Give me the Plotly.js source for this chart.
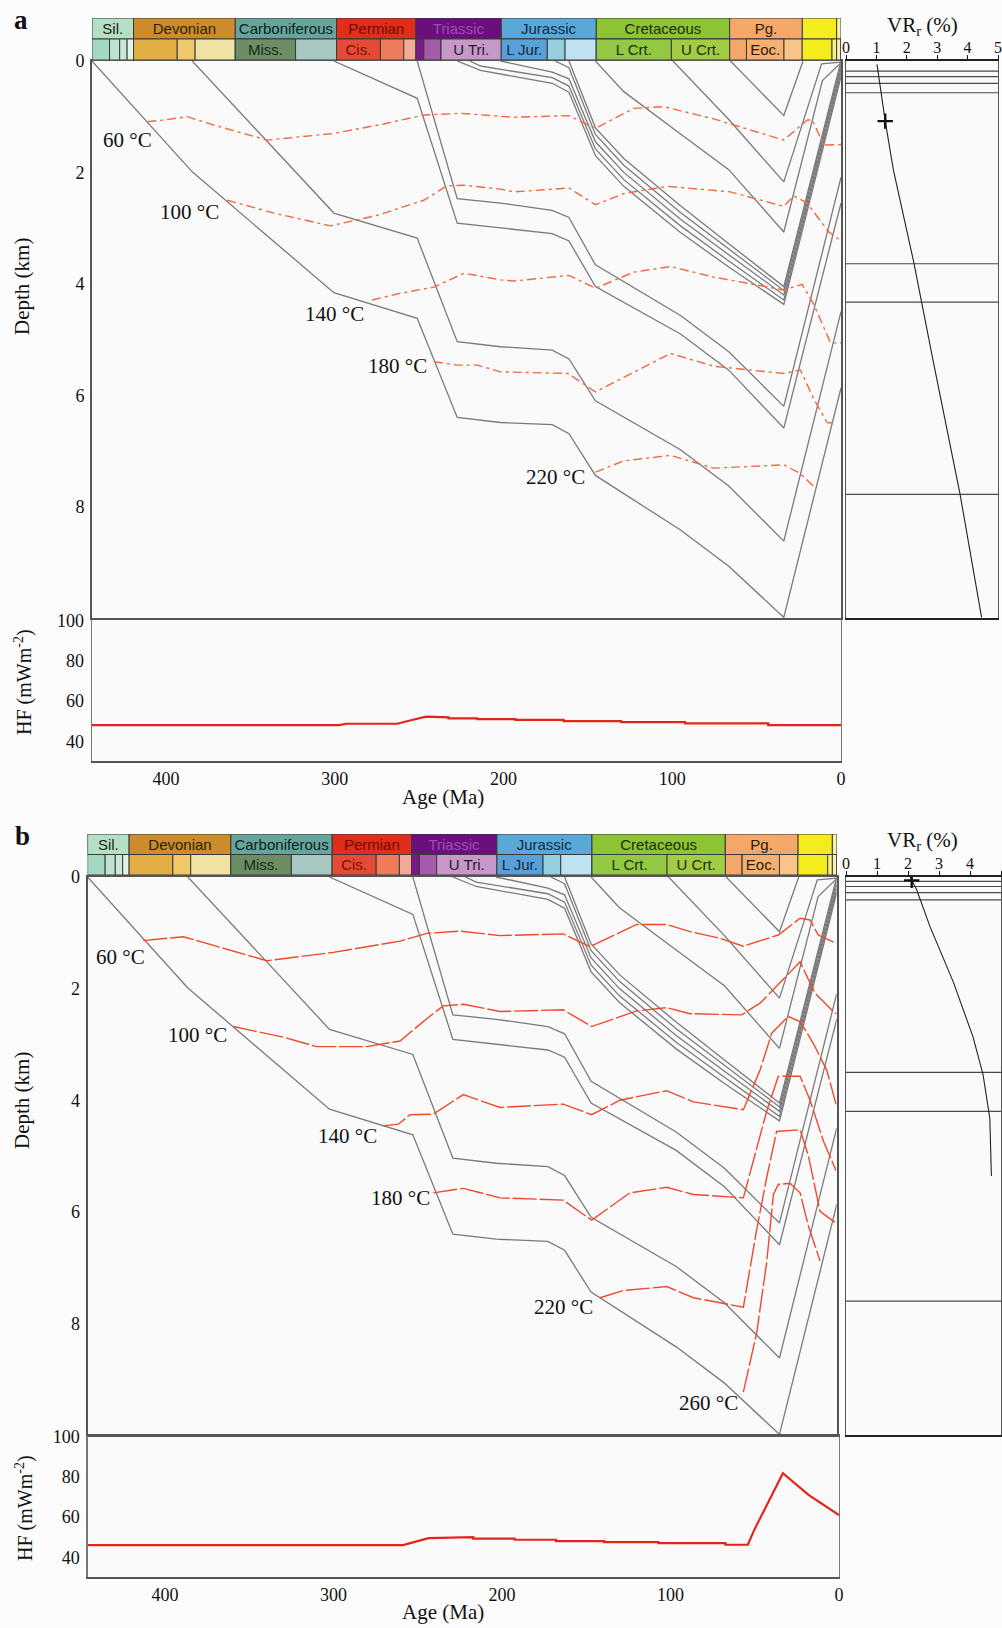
<!DOCTYPE html>
<html><head><meta charset="utf-8">
<script src="https://cdn.plot.ly/plotly-3.0.1.min.js"></script>
<style>html,body{margin:0;padding:0;background:#fcfcfc}#chart{width:1002px;height:1628px}</style>
</head><body><div id="chart"></div>
<script>
// ================= DATA =================
// Geological time scale (Ma)
const periodNames  = ['Sil.','Devonian','Carboniferous','Permian','Triassic','Jurassic','Cretaceous','Pg.','',''];
const periodStart  = [443.8, 419.2, 358.9, 298.9, 251.9, 201.3, 145.0, 66.0, 23.0, 2.58];
const periodEnd    = [419.2, 358.9, 298.9, 251.9, 201.3, 145.0, 66.0, 23.0, 2.58, 0];
const periodColors = ['#b5dfc3','#cc8c2c','#67a59c','#e02d1c','#6a0f7c','#5aa8d8','#8cc434','#f3a86a','#f4ec1c','#f8f3a0'];
const periodText   = ['#222','#2a1e08','#102020','#6e0a00','#9a50ad','#0f2a40','#1c2a08','#2a1a08','#222','#222'];

const epochNames  = ['','','','', '','','', 'Miss.','', 'Cis.','','', '','','U Tri.', 'L Jur.','','', 'L Crt.','U Crt.', '','Eoc.','', '','', '',''];
const epochStart  = [443.8,433.4,427.4,423.0, 419.2,393.3,382.7, 358.9,323.2, 298.9,272.95,259.1, 251.9,247.2,237.0, 201.3,174.1,163.5, 145.0,100.5, 66.0,56.0,33.9, 23.0,5.33, 2.58,0.0117];
const epochEnd    = [433.4,427.4,423.0,419.2, 393.3,382.7,358.9, 323.2,298.9, 272.95,259.1,251.9, 247.2,237.0,201.3, 174.1,163.5,145.0, 100.5,66.0, 56.0,33.9,23.0, 5.33,2.58, 0.0117,0];
const epochColors = ['#a3d9c2','#bfe3cf','#cae8d6','#e2f3e6', '#e2ae44','#f0c86a','#efe4a4', '#6c8e64','#a6c8c0', '#e44a35','#ef7a5c','#f4a898', '#7c1888','#a45ca8','#c797c9', '#5aa0d8','#96cfe0','#bfe2f2', '#93c844','#a3cc44', '#f3a86a','#f6b070','#f8c488', '#f4ec1c','#f8f088', '#f8f3b0','#fdf6e0'];
const epochText   = ['#222','#222','#222','#222','#222','#222','#222','#1a2a1a','#222','#7a0a00','#222','#222','#222','#222','#222','#0f2a40','#222','#222','#1c2a08','#1c2a08','#222','#2a1a08','#222','#222','#222','#222','#222'];

// Burial history horizons (age Ma, depth km) - same well in both panels
const h1Age = [443.8, 384.4, 300.5, 251.1, 227.4, 201.7, 171.1, 161.2, 145.5, 95.1, 66.5, 33.9, 0];
const h1Dep = [0, 1.99, 4.16, 4.62, 6.40, 6.49, 6.53, 6.69, 7.44, 8.42, 9.07, 9.99, 5.87];
const h2Age = [384.4, 300.5, 251.1, 227.4, 201.7, 171.1, 161.2, 145.5, 95.1, 66.5, 33.9, 0];
const h2Dep = [0, 2.73, 3.18, 5.04, 5.13, 5.19, 5.35, 6.10, 6.98, 7.63, 8.62, 4.50];
const h3Age = [300.5, 251.1, 227.4, 201.7, 171.1, 161.2, 145.5, 95.1, 66.5, 33.9, 0];
const h3Dep = [0, 0.67, 2.91, 3.00, 3.10, 3.23, 4.05, 4.90, 5.55, 6.59, 2.55];
const h4Age = [251.1, 227.4, 201.7, 171.1, 161.2, 145.5, 95.1, 66.5, 33.9, 0];
const h4Dep = [0, 2.47, 2.55, 2.68, 2.81, 3.66, 4.57, 5.22, 6.20, 2.09];
const h5Age = [227.4, 213.6, 171.1, 161.2, 145.5, 128.7, 95.1, 66.5, 33.9, 0];
const h5Dep = [0, 0.17, 0.40, 0.56, 1.70, 2.25, 3.08, 3.70, 4.37, 0.28];
const h6Age = [220.0, 213.6, 171.1, 161.2, 145.5, 128.7, 95.1, 66.5, 33.9, 0];
const h6Dep = [0, 0.09, 0.30, 0.45, 1.58, 2.13, 2.96, 3.59, 4.29, 0.21];
const h7Age = [201.7, 171.1, 161.2, 145.5, 128.7, 95.1, 66.5, 33.9, 0];
const h7Dep = [0, 0.20, 0.32, 1.45, 2.00, 2.84, 3.48, 4.20, 0.14];
const h8Age = [169.4, 161.2, 145.5, 128.7, 95.1, 66.5, 33.9, 0];
const h8Dep = [0, 0.12, 1.32, 1.87, 2.72, 3.38, 4.12, 0.07];
const h9Age = [161.2, 145.5, 128.7, 95.1, 66.5, 33.9, 0];
const h9Dep = [0, 1.20, 1.75, 2.60, 3.28, 4.05, 0.0];
const h10Age = [145.5, 128.7, 95.1, 66.5, 33.9, 11.0, 0];
const h10Dep = [0, 0.55, 1.31, 1.95, 3.07, 0.35, 0.03];
const h11Age = [99.6, 66.5, 33.9, 11.5, 0];
const h11Dep = [0, 1.05, 2.17, 0.05, 0.02];
const h12Age = [65.5, 33.9, 22.5];
const h12Dep = [0, 0.98, 0];

// Panel a isotherms
const a60Age  = [411.1, 401.2, 387.4, 371.6, 339.9, 300.5, 270.9, 247.2, 225.4, 201.7, 193.9, 161.2, 145.5, 122.7, 105.0, 75.4, 33.9, 20.0, 17.0, 10.2, 0];
const a60Dep  = [1.09, 1.06, 1.00, 1.15, 1.42, 1.30, 1.13, 0.97, 0.94, 1.00, 1.01, 0.98, 1.21, 0.85, 0.82, 1.04, 1.42, 1.06, 1.06, 1.51, 1.50];
const a100Age = [363.7, 336.0, 302.5, 274.8, 247.2, 233.4, 223.4, 201.7, 193.9, 161.2, 145.5, 128.7, 103.0, 65.5, 33.9, 28.0, 20.1, 7.2, 0];
const a100Dep = [2.50, 2.73, 2.96, 2.77, 2.50, 2.24, 2.23, 2.30, 2.35, 2.28, 2.58, 2.38, 2.25, 2.35, 2.61, 2.42, 2.55, 3.07, 3.23];
const a140Age = [277.8, 261.0, 241.2, 223.4, 201.7, 193.9, 161.2, 145.5, 122.7, 101.0, 75.4, 33.9, 23.0, 16.1, 6.2, 0];
const a140Dep = [4.29, 4.17, 4.06, 3.81, 3.93, 3.95, 3.85, 4.08, 3.79, 3.69, 3.88, 4.11, 4.01, 4.37, 5.06, 5.06];
const a180Age = [241.2, 227.4, 215.5, 201.7, 161.7, 145.5, 101.0, 75.4, 33.9, 24.0, 16.1, 8.2, 5.2];
const a180Dep = [5.40, 5.46, 5.46, 5.58, 5.61, 5.94, 5.25, 5.48, 5.61, 5.55, 6.07, 6.49, 6.50];
const a220Age = [145.5, 128.7, 101.0, 75.4, 33.9, 24.0, 15.1];
const a220Dep = [7.38, 7.18, 7.08, 7.31, 7.25, 7.41, 7.67];
const aIsoLabels = ['60 °C','100 °C','140 °C','180 °C','220 °C'];
const aIsoLabelAge = [422.5, 386.0, 300.1, 262.5, 169.2];
const aIsoLabelDep = [1.42, 2.71, 4.54, 5.48, 7.47];

// Panel b isotherms
const b60Age  = [410.8, 395.0, 387.1, 373.3, 337.7, 298.2, 258.7, 242.9, 223.2, 199.5, 162.0, 146.2, 118.5, 100.7, 86.8, 69.1, 55.3, 34.6, 21.7, 15.8, 10.9, 0];
const b60Dep  = [1.14, 1.10, 1.07, 1.19, 1.50, 1.35, 1.15, 1.01, 0.97, 1.05, 1.02, 1.25, 0.85, 0.85, 0.98, 1.10, 1.24, 1.04, 0.74, 0.77, 1.04, 1.19];
const b100Age = [357.5, 327.9, 308.1, 278.5, 258.7, 242.9, 233.1, 221.2, 199.5, 162.0, 145.2, 118.5, 100.7, 86.9, 56.3, 45.4, 39.5, 21.7, 12.9, 1.0, 0];
const b100Dep = [2.68, 2.87, 3.04, 3.04, 2.94, 2.54, 2.31, 2.28, 2.41, 2.38, 2.68, 2.40, 2.34, 2.45, 2.47, 2.26, 2.08, 1.52, 2.08, 2.44, 2.45];
const b140Age = [268.6, 259.7, 252.8, 239.0, 221.2, 199.5, 162.0, 145.2, 128.4, 100.7, 84.9, 55.3, 45.4, 38.5, 28.7, 21.7, 13.9, 5.9, 0.4];
const b140Dep = [4.46, 4.43, 4.26, 4.25, 3.90, 4.13, 4.07, 4.26, 4.00, 3.83, 4.03, 4.17, 3.46, 2.80, 2.50, 2.59, 2.98, 3.46, 4.07];
const b180Age = [239.0, 221.2, 199.5, 162.0, 145.2, 122.5, 100.7, 84.9, 55.3, 47.4, 41.5, 34.6, 21.7, 15.8, 7.9, 0.4];
const b180Dep = [5.66, 5.58, 5.75, 5.79, 6.15, 5.66, 5.56, 5.69, 5.75, 4.86, 4.20, 3.57, 3.57, 4.00, 4.73, 5.26];
const b220Age = [140.2, 126.4, 100.7, 84.9, 55.3, 47.4, 41.5, 35.6, 21.7, 16.8, 9.9, 1.0];
const b220Dep = [7.54, 7.41, 7.34, 7.54, 7.71, 6.32, 5.39, 4.56, 4.53, 4.99, 5.99, 6.19];
const b260Age = [55.3, 47.4, 41.5, 37.5, 34.6, 27.7, 21.7, 16.8, 9.9];
const b260Dep = [9.23, 8.17, 6.91, 5.69, 5.51, 5.49, 5.66, 6.25, 6.88];
const bIsoLabels = ['60 °C','100 °C','140 °C','180 °C','220 °C','260 °C'];
const bIsoLabelAge = [424.1, 378.7, 289.6, 258.7, 161.6, 76.2];
const bIsoLabelDep = [1.43, 2.84, 4.65, 5.76, 7.71, 9.43];

// Vitrinite reflectance (%) vs depth (km)
const vrA = [1.02, 1.15, 1.29, 1.56, 2.22, 2.88, 3.75, 4.46];
const vrDepA = [0.06, 0.55, 1.08, 1.96, 3.59, 5.42, 7.77, 9.99];
const vrObsA = [1.29], vrObsDepA = [1.08];
const vrTopsA = [0.18, 0.28, 0.40, 0.57, 3.64, 4.33, 7.78];
const vrB = [2.07, 2.28, 2.71, 3.46, 4.10, 4.42, 4.64, 4.69];
const vrDepB = [0.0, 0.23, 0.89, 1.88, 2.87, 3.54, 4.33, 5.36];
const vrObsB = [2.12], vrObsDepB = [0.06];
const vrTopsB = [0.08, 0.17, 0.28, 0.41, 3.50, 4.20, 7.60];

// Heat flow (mW/m2) vs age (Ma)
const hfAgeA = [443.8, 297.1, 293.3, 263.0, 255.4, 245.9, 232.6, 232.6, 215.6, 215.6, 192.9, 192.9, 164.4, 164.4, 130.3, 130.3, 92.4, 92.4, 43.1, 43.1, 0];
const hfA    = [48.1, 48.1, 48.8, 48.8, 50.4, 52.3, 52.0, 51.5, 51.5, 51.1, 51.1, 50.7, 50.7, 50.1, 50.1, 49.6, 49.6, 49.0, 49.0, 48.1, 48.1];
const hfAgeB = [446.0, 258.8, 243.6, 217.1, 217.1, 192.5, 192.5, 167.9, 167.9, 139.4, 139.4, 107.2, 107.2, 67.4, 67.4, 54.1, 50.3, 33.3, 18.1, 0];
const hfB    = [46.1, 46.1, 49.6, 50.1, 49.4, 49.4, 48.8, 48.8, 48.1, 48.1, 47.6, 47.6, 47.1, 47.1, 46.3, 46.3, 53.7, 81.8, 71.1, 61.1];

// ================= BUILD =================
const SERIF = 'Liberation Serif, Times New Roman, serif';
const SANS = 'Liberation Sans, Arial, sans-serif';
const GRAY = '#7a7a7a';
const W = 1002, H = 1628;
const px = v => v / W, py = v => 1 - v / H;

const horizons = [[h1Age,h1Dep],[h2Age,h2Dep],[h3Age,h3Dep],[h4Age,h4Dep],[h5Age,h5Dep],[h6Age,h6Dep],[h7Age,h7Dep],[h8Age,h8Dep],[h9Age,h9Dep],[h10Age,h10Dep],[h11Age,h11Dep],[h12Age,h12Dep]];
const isoA = [[a60Age,a60Dep],[a100Age,a100Dep],[a140Age,a140Dep],[a180Age,a180Dep],[a220Age,a220Dep]];
const isoB = [[b60Age,b60Dep],[b100Age,b100Dep],[b140Age,b140Dep],[b180Age,b180Dep],[b220Age,b220Dep],[b260Age,b260Dep]];

function line(x, y, xa, ya, color, width, dash) {
  return {type:'scatter', mode:'lines', x, y, xaxis:xa, yaxis:ya,
          line:{color, width, dash: dash || 'solid'}, hoverinfo:'skip', showlegend:false};
}
// all boxes (no text) + labelled boxes (with text)
function bars(names, starts, ends, colors, tcolors, yv, xa, ya) {
  const base = {type:'bar', orientation:'h', xaxis:xa, yaxis:ya, hoverinfo:'skip', showlegend:false};
  const all = Object.assign({}, base, {
    y: names.map(() => yv), base: ends, x: starts.map((s,i) => s - ends[i]), width: names.map(() => 1),
    marker:{color: colors, line:{color:'#3a3a3a', width:1}}});
  const idx = names.map((n,i) => i).filter(i => names[i] !== '');
  const lab = Object.assign({}, base, {
    y: idx.map(() => yv), base: idx.map(i => ends[i]), x: idx.map(i => starts[i] - ends[i]), width: idx.map(() => 1),
    marker:{color: idx.map(i => colors[i]), line:{color:'#3a3a3a', width:1}},
    text: idx.map(i => names[i]), textposition:'inside', insidetextanchor:'middle', textangle:0,
    constraintext:'none', textfont:{family:SANS, size:15, color: idx.map(i => tcolors[i])}});
  return [all, lab];
}
function topsTrace(tops, xa, ya) {
  const xs = [], ys = [];
  tops.forEach(d => { xs.push(0, 5, null); ys.push(d, d, null); });
  return line(xs, ys, xa, ya, '#4a4a4a', 1.2);
}

const traces = [];
const annotations = [];
function panel(s, iso, isoColor, isoDash, labels, labAge, labDep, vr, vrDep, vrObs, vrObsDep, tops, hfAge, hf) {
  traces.push(...bars(periodNames, periodStart, periodEnd, periodColors, periodText, 1.5, s.tx, s.ty));
  traces.push(...bars(epochNames, epochStart, epochEnd, epochColors, epochText, 0.5, s.tx, s.ty));
  horizons.forEach(h => traces.push(line(h[0], h[1], s.bx, s.by, GRAY, 1.3)));
  iso.forEach(h => traces.push(line(h[0], h[1], s.bx, s.by, isoColor, 1.4, isoDash)));
  labels.forEach((t, i) => annotations.push({xref:s.bx, yref:s.by, x:labAge[i], y:labDep[i], text:t,
     showarrow:false, font:{family:SERIF, size:21, color:'#111'}, xanchor:'center', yanchor:'middle'}));
  traces.push(topsTrace(tops, s.vx, s.vy));
  traces.push(line(vr, vrDep, s.vx, s.vy, '#222', 1.1));
  traces.push({type:'scatter', mode:'markers', x:vrObs, y:vrObsDep, xaxis:s.vx, yaxis:s.vy,
     marker:{symbol:'cross-thin', size:11, line:{width:2.4, color:'#111'}}, hoverinfo:'skip', showlegend:false});
  traces.push(line(hfAge, hf, s.hx, s.hy, '#e3241b', 2.2));
}

panel({bx:'x', by:'y', tx:'x2', ty:'y2', hx:'x3', hy:'y3', vx:'x4', vy:'y4'},
      isoA, '#f2683f', '9px,4px,3px,4px', aIsoLabels, aIsoLabelAge, aIsoLabelDep,
      vrA, vrDepA, vrObsA, vrObsDepA, vrTopsA, hfAgeA, hfA);
panel({bx:'x5', by:'y5', tx:'x6', ty:'y6', hx:'x7', hy:'y7', vx:'x8', vy:'y8'},
      isoB, '#f0482a', '24px,3px', bIsoLabels, bIsoLabelAge, bIsoLabelDep,
      vrB, vrDepB, vrObsB, vrObsDepB, vrTopsB, hfAgeB, hfB);

const LC = '#555';
const tickFont = {family:SERIF, size:18, color:'#111'};
function burialX(dom, anchor) { return {domain:dom, range:[443.8,0], anchor, showticklabels:false, ticks:'', showline:true, mirror:true, linecolor:LC, linewidth:2, showgrid:false, zeroline:false, fixedrange:true}; }
function burialY(dom, anchor) { return {domain:dom, range:[10,0], anchor, tickvals:[0,2,4,6,8], ticks:'outside', ticklen:2, tickcolor:'rgba(0,0,0,0)', tickfont:tickFont, showline:true, mirror:true, linecolor:LC, linewidth:2, showgrid:false, zeroline:false}; }
function tsX(dom, anchor) { return {domain:dom, range:[443.8,0], anchor, visible:false, fixedrange:true}; }
function tsY(dom, anchor) { return {domain:dom, range:[0,2], anchor, visible:false, fixedrange:true}; }
function hfX(dom, range, anchor) { return {domain:dom, range, anchor, tickvals:[0,100,200,300,400], ticks:'', tickfont:tickFont, showline:true, mirror:true, linecolor:LC, linewidth:2, showgrid:false, zeroline:false}; }
function hfY(dom, anchor) { return {domain:dom, range:[30.3,100.3], anchor, tickvals:[40,60,80,100], ticks:'outside', ticklen:3, tickcolor:'rgba(0,0,0,0)', tickfont:tickFont, showline:true, mirror:true, linecolor:'#777', linewidth:1.3, showgrid:false, zeroline:false}; }
function vrX(dom, anchor) { return {domain:dom, range:[0,5], anchor, side:'top', tickvals:[0,1,2,3,4,5], ticks:'outside', ticklen:4, tickcolor:'#111', ticklabelstandoff:-5, tickfont:{family:SERIF, size:16, color:'#111'}, showline:true, mirror:true, linecolor:'#222', linewidth:2.2, showgrid:false, zeroline:false}; }
function vrY(dom, anchor) { return {domain:dom, range:[10,0], anchor, showticklabels:false, ticks:'', showline:true, mirror:true, linecolor:LC, linewidth:1.4, showgrid:false, zeroline:false}; }

const xa = [px(92), px(841)], xb = [px(87.6), px(836.7)], xhb = [px(87.6), px(839)];
const vra = [px(846), px(998)], vrb = [px(846), px(1001)];
function pa(x, y, text, size, angle) {
  return {xref:'paper', yref:'paper', x:px(x), y:py(y), text, showarrow:false, xanchor:'center', yanchor:'middle',
          textangle: angle || 0, font:{family:SERIF, size, color:'#111'}};
}
const layout = {
  width:W, height:H, autosize:false, margin:{l:0,r:0,t:0,b:0},
  paper_bgcolor:'#fcfcfc', plot_bgcolor:'#fafafa', barmode:'overlay', showlegend:false,
  xaxis: burialX(xa, 'y'),   yaxis: burialY([py(618), py(61)], 'x'),
  xaxis2: tsX(xa, 'y2'),     yaxis2: tsY([py(60), py(18)], 'x2'),
  xaxis3: hfX(xa, [443.8,0], 'y3'), yaxis3: hfY([py(761), py(620)], 'x3'),
  xaxis4: vrX(vra, 'y4'),    yaxis4: vrY([py(618), py(61)], 'x4'),
  xaxis5: burialX(xb, 'y5'), yaxis5: burialY([py(1435), py(877)], 'x5'),
  xaxis6: tsX(xb, 'y6'),     yaxis6: tsY([py(875), py(834)], 'x6'),
  xaxis7: hfX(xhb, [446,0], 'y7'), yaxis7: hfY([py(1577), py(1436)], 'x7'),
  xaxis8: vrX(vrb, 'y8'),    yaxis8: vrY([py(1435), py(877)], 'x8'),
  annotations: annotations.concat([
    pa(21, 20, '<b>a</b>', 27), pa(22, 836, '<b>b</b>', 27),
    pa(22, 287, 'Depth (km)', 21, -90), pa(22, 1101, 'Depth (km)', 21, -90),
    pa(24, 682, 'HF (mWm<sup>-2</sup>)', 20, -90), pa(24, 1508, 'HF (mWm<sup>-2</sup>)', 20, -90),
    pa(443, 797, 'Age (Ma)', 21), pa(443, 1612, 'Age (Ma)', 21),
    pa(922, 26, 'VR<sub>r</sub> (%)', 21), pa(922, 841, 'VR<sub>r</sub> (%)', 21)
  ])
};

Plotly.newPlot('chart', traces, layout, {staticPlot:true, displayModeBar:false});
</script>
</body></html>
